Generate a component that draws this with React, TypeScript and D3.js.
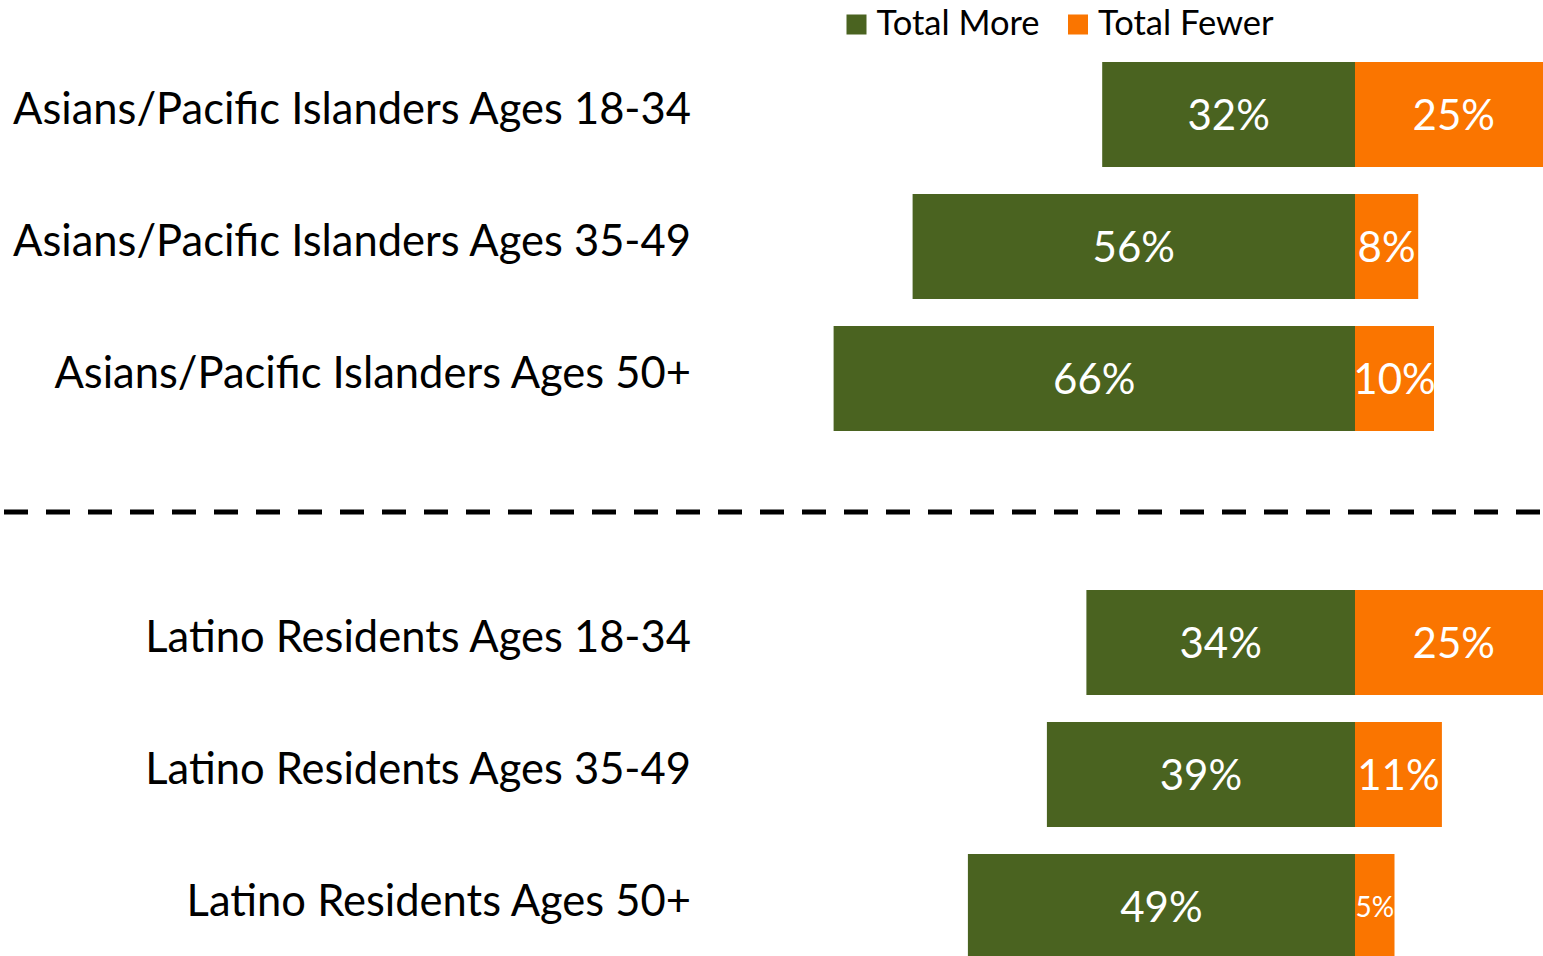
import React from "react";
import * as d3 from "d3";

const categories = [
  "Asians/Pacific Islanders Ages 18-34",
  "Asians/Pacific Islanders Ages 35-49",
  "Asians/Pacific Islanders Ages 50+",
  "Latino Residents Ages 18-34",
  "Latino Residents Ages 35-49",
  "Latino Residents Ages 50+",
];
const moreValues = [32, 56, 66, 34, 39, 49];
const fewerValues = [25, 8, 10, 25, 11, 5];
const seriesNames = ["Total More", "Total Fewer"];
const seriesColors = ["#4A6320", "#FA7500"];

const W = 1543;
const H = 956;
const FONT = "Lato, 'Open Sans', sans-serif";
const SEP = "__sep__";

export default function App() {
  const slots = [...categories.slice(0, 3), SEP, ...categories.slice(3)];
  const y = d3
    .scaleBand<string>()
    .domain(slots)
    .range([48.5, 48.5 + 7 * 132])
    .paddingInner(27 / 132)
    .paddingOuter(13.5 / 132);
  const x = d3.scaleLinear().domain([-66, 25]).range([833.6, 1552.5]);
  const x0 = x(0);
  const bw = y.bandwidth();
  const sepY = (y(SEP) as number) + bw / 2;

  return (
    <svg
      width={W}
      height={H}
      style={{ position: "absolute", left: 0, top: 0, background: "#fff" }}
      fontFamily={FONT}
    >
      {/* legend */}
      {seriesNames.map((n, i) => {
        const lx = i === 0 ? 846.5 : 1068;
        return (
          <g key={n}>
            <rect x={lx} y={14.5} width={20} height={20} fill={seriesColors[i]} />
            <text x={lx + 30} y={34.5} fontSize={34.5} fill="#000">
              {n}
            </text>
          </g>
        );
      })}

      {categories.map((c, i) => {
        const top = y(c) as number;
        const cy = top + bw / 2;
        const xm = x(-moreValues[i]);
        const xf = x(fewerValues[i]);
        const fw = xf - x0;
        return (
          <g key={c}>
            <text x={691} y={cy + 9.5} fontSize={43.5} textAnchor="end" fill="#000">
              {c}
            </text>
            <rect x={xm} y={top} width={x0 - xm} height={bw} fill={seriesColors[0]} />
            <rect x={x0} y={top} width={fw} height={bw} fill={seriesColors[1]} />
            <text
              x={(xm + x0) / 2}
              y={cy + 15}
              fontSize={42}
              textAnchor="middle"
              fill="#fff"
            >
              {moreValues[i]}%
            </text>
            <text
              x={(x0 + xf) / 2}
              y={cy + (fw < 50 ? 10 : 15)}
              fontSize={fw < 50 ? 28 : 42}
              textAnchor="middle"
              fill="#fff"
            >
              {fewerValues[i]}%
            </text>
          </g>
        );
      })}

      <line
        x1={4}
        x2={W}
        y1={sepY + 1.5}
        y2={sepY + 1.5}
        stroke="#000"
        strokeWidth={5}
        strokeDasharray="24 18"
      />
    </svg>
  );
}
